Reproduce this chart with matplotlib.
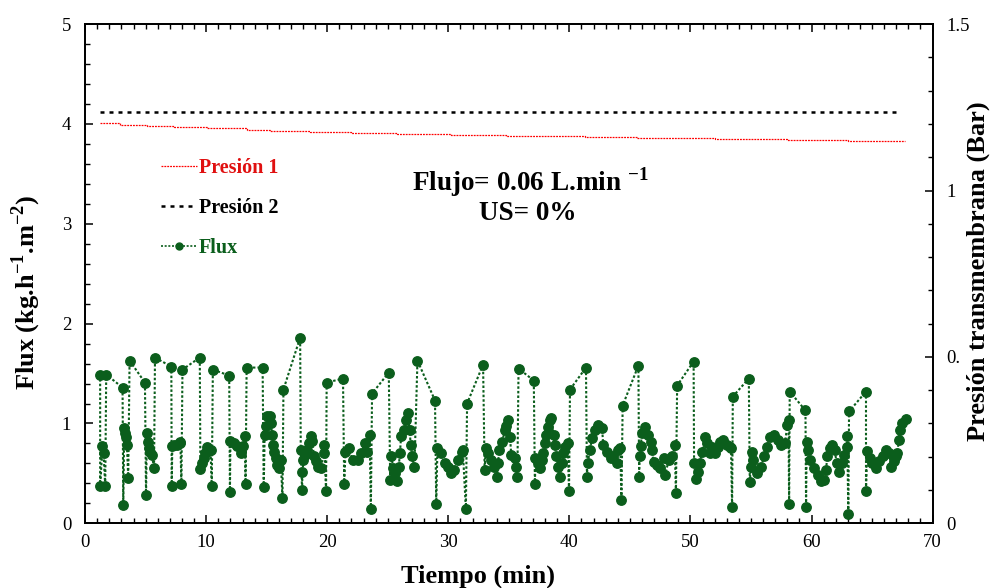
import matplotlib
matplotlib.use("Agg")
import matplotlib.pyplot as plt
from matplotlib.ticker import MultipleLocator, FixedLocator, FixedFormatter
from matplotlib.lines import Line2D

plt.rcParams['font.family'] = ['Liberation Serif', 'DejaVu Serif']
plt.rcParams['mathtext.fontset'] = 'custom'
plt.rcParams['mathtext.rm'] = 'Liberation Serif'
plt.rcParams['mathtext.bf'] = 'Liberation Serif:bold'

# Flux readings (time in min, flux in kg.h-1.m-2)
tiempo = [
    1.24, 1.24, 1.43, 1.52, 1.66,
    1.74, 3.09, 3.15, 3.23, 3.30, 3.40, 3.45, 3.56,
    3.67, 4.94, 5.03, 5.10, 5.20, 5.28, 5.38, 5.52, 5.69,
    5.77, 7.12, 7.15, 7.20, 7.37, 7.60, 7.80, 7.87, 7.95,
    8.04, 9.47, 9.52, 9.66, 9.80, 9.94, 10.08, 10.20, 10.36, 10.46,
    10.55, 11.90, 11.96, 12.00, 12.29, 12.57, 12.84, 13.06, 13.20, 13.25,
    13.34, 14.66, 14.75, 14.83, 14.91, 15.05, 15.27, 15.33, 15.47, 15.50,
    15.60, 15.74, 15.88, 16.00, 16.16, 16.30,
    16.38, 17.76, 17.81, 17.92, 17.95, 18.03, 18.20, 18.36, 18.50, 18.64,
    18.78, 18.90, 19.05, 19.20, 19.47, 19.70, 19.75, 19.90,
    19.95, 21.30, 21.40, 21.50, 21.80, 22.10, 22.50, 22.80, 23.10, 23.30,
    23.50, 23.60,
    23.70, 25.08, 25.20, 25.30, 25.45, 25.60, 25.75, 25.90, 26.00, 26.10,
    26.30, 26.50, 26.65, 26.80, 26.90, 27.00, 27.20,
    27.45, 28.90, 29.00, 29.10, 29.40, 29.70, 29.96, 30.20, 30.50, 30.80,
    31.10, 31.20, 31.45,
    31.55, 32.87, 33.00, 33.10, 33.30, 33.55, 33.80, 34.00, 34.10, 34.20,
    34.40, 34.70, 34.80, 34.90, 35.10, 35.20, 35.50, 35.60, 35.70,
    35.80, 37.06, 37.15, 37.20, 37.40, 37.55, 37.70, 37.80, 38.00, 38.10,
    38.20, 38.40, 38.50, 38.70, 38.80, 38.90, 39.10, 39.20, 39.40, 39.50,
    39.60, 39.85, 39.97,
    40.05, 41.37, 41.45, 41.50, 41.70, 41.85, 42.10, 42.40, 42.70, 42.80,
    43.10, 43.40, 43.60, 43.90, 44.05, 44.20, 44.30,
    44.40, 45.70, 45.76, 45.80, 45.90, 45.98, 46.26, 46.50, 46.70, 46.80,
    46.96, 47.20, 47.50, 47.80, 47.90, 48.20, 48.50, 48.70, 48.80,
    48.90, 50.26, 50.30, 50.45, 50.60, 50.75, 50.95, 51.20, 51.40, 51.60,
    51.75, 52.00, 52.25, 52.45, 52.70, 53.00, 53.25, 53.35, 53.44,
    53.50, 54.82, 54.90, 55.00, 55.05, 55.20, 55.50, 55.80, 56.10, 56.30,
    56.60, 56.90, 57.20, 57.45, 57.80, 58.00, 58.10, 58.15,
    58.20, 59.50, 59.55, 59.60, 59.70, 59.90, 60.20, 60.50, 60.75, 61.00,
    61.20, 61.30, 61.50, 61.70, 61.90, 62.10, 62.30, 62.50, 62.70, 62.90,
    62.95, 63.04,
    63.10, 64.50, 64.50, 64.60, 64.80, 65.00, 65.30, 65.60, 65.90, 66.15,
    66.40, 66.60, 66.80, 67.00, 67.10, 67.20, 67.30, 67.50, 67.80,
]
flux = [
    1.49, 0.37, 0.77, 0.70, 0.37,
    1.49, 1.36, 0.18, 0.95, 0.90, 0.86, 0.78, 0.45,
    1.63, 1.41, 0.28, 0.90, 0.81, 0.75, 0.71, 0.68, 0.55,
    1.66, 1.57, 0.37, 0.77, 0.78, 0.78, 0.80, 0.81, 0.39,
    1.54, 1.66, 0.54, 0.60, 0.65, 0.70, 0.76, 0.72, 0.73, 0.37,
    1.54, 1.48, 0.31, 0.82, 0.80, 0.77, 0.70, 0.77, 0.87, 0.39,
    1.56, 1.56, 0.36, 0.88, 0.97, 1.07, 1.07, 1.00, 0.88, 0.78,
    0.71, 0.65, 0.58, 0.55, 0.63, 0.25,
    1.34, 1.86, 0.73, 0.33, 0.51, 0.63, 0.68, 0.73, 0.80, 0.87,
    0.82, 0.67, 0.62, 0.56, 0.55, 0.70, 0.78, 0.32,
    1.41, 1.45, 0.39, 0.71, 0.75, 0.63, 0.63, 0.70, 0.80, 0.71,
    0.88, 0.14,
    1.30, 1.51, 0.43, 0.67, 0.55, 0.50, 0.42, 0.56, 0.70, 0.87,
    0.93, 1.03, 1.10, 0.93, 0.78, 0.67, 0.56,
    1.63, 1.23, 0.19, 0.75, 0.70, 0.60, 0.56, 0.50, 0.53, 0.63,
    0.71, 0.73, 0.14,
    1.20, 1.59, 0.53, 0.75, 0.70, 0.63, 0.56, 0.46, 0.60, 0.73,
    0.81, 0.93, 0.97, 1.03, 0.86, 0.68, 0.65, 0.56, 0.46,
    1.55, 1.43, 0.39, 0.65, 0.60, 0.55, 0.63, 0.70, 0.80, 0.88,
    0.96, 1.03, 1.05, 0.88, 0.78, 0.67, 0.56, 0.46, 0.60, 0.70,
    0.76, 0.80, 0.32,
    1.34, 1.56, 0.46, 0.60, 0.73, 0.85, 0.93, 0.98, 0.95, 0.78,
    0.71, 0.65, 0.67, 0.60, 0.73, 0.75, 0.23,
    1.18, 1.58, 0.46, 0.67, 0.77, 0.90, 0.96, 0.88, 0.81, 0.73,
    0.61, 0.58, 0.55, 0.65, 0.48, 0.63, 0.67, 0.78, 0.30,
    1.38, 1.62, 0.60, 0.44, 0.51, 0.60, 0.71, 0.86, 0.80, 0.70,
    0.76, 0.70, 0.76, 0.81, 0.83, 0.78, 0.76, 0.75, 0.16,
    1.27, 1.45, 0.41, 0.56, 0.71, 0.63, 0.50, 0.56, 0.67, 0.76,
    0.86, 0.88, 0.83, 0.78, 0.80, 0.98, 1.03, 0.19,
    1.32, 1.13, 0.16, 0.81, 0.73, 0.63, 0.55, 0.48, 0.42, 0.43,
    0.53, 0.67, 0.75, 0.78, 0.73, 0.60, 0.51, 0.60, 0.68, 0.76,
    0.87, 0.09,
    1.12, 1.32, 0.32, 0.72, 0.65, 0.60, 0.55, 0.62, 0.67, 0.73,
    0.70, 0.56, 0.62, 0.67, 0.70, 0.83, 0.93, 1.00, 1.04,
]

# Transmembrane pressures (Bar)
p1_tiempo = [1.2, 2.9, 5.1, 7.3, 10.1, 13.4, 15.3, 18.6, 22.0, 25.8,
             30.2, 34.8, 41.3, 45.6, 52.0, 58.0, 63.0, 67.7]
p1_bar = [1.203, 1.198, 1.194, 1.190, 1.187, 1.183, 1.179, 1.175, 1.172, 1.169,
          1.166, 1.163, 1.160, 1.157, 1.154, 1.151, 1.148, 1.148]
p2_tiempo = [1.2, 67.2]
p2_bar = [1.237, 1.237]

verde = '#0b5e1c'

fig = plt.figure(figsize=(9.9, 5.88), dpi=100)
ax = fig.add_axes([0.086, 0.110, 0.856, 0.849])
ax2 = ax.twinx()

ax.plot(tiempo, flux, color=verde, linestyle=(0, (1.2, 1.0)), lw=1.5,
        marker='o', ms=6.8, mec=verde, mfc=verde, zorder=3)

ax2.plot(p1_tiempo, p1_bar, color='red', linestyle=(0, (1.5, 0.8)), lw=0.9,
         drawstyle='steps-post')
ax2.plot(p2_tiempo, p2_bar, color='black', linestyle=(0, (1.6, 2.0)), lw=1.8)

ax.set_xlim(0, 70)
ax.set_ylim(0, 5)
ax2.set_ylim(0, 1.5)

ax.xaxis.set_major_locator(MultipleLocator(10))
ax.xaxis.set_minor_locator(MultipleLocator(1))
ax.yaxis.set_major_locator(MultipleLocator(1))
ax.yaxis.set_minor_locator(MultipleLocator(0.2))
ax2.yaxis.set_major_locator(FixedLocator([0, 0.5, 1, 1.5]))
ax2.yaxis.set_major_formatter(FixedFormatter(['0', '0.', '1', '1.5']))
ax2.yaxis.set_minor_locator(MultipleLocator(0.1))

ax.tick_params(axis='x', which='both', direction='in', top=True, labelsize=13.5, pad=8)
ax.tick_params(axis='y', which='both', direction='in', labelsize=13.5, pad=10)
ax2.tick_params(axis='y', which='both', direction='in', labelsize=13.5, pad=10)
for a in (ax, ax2):
    a.tick_params(which='major', length=6, width=1.1)
    a.tick_params(which='minor', length=3.5, width=1.0)
    for s in a.spines.values():
        s.set_linewidth(1.3)

ax.set_xlabel('Tiempo (min)', fontsize=19, fontweight='bold')
ax.xaxis.set_label_coords(0.464, -0.082)
ax.set_ylabel(r'Flux (kg.h$^{\mathbf{-1}}$.m$^{\mathbf{-2}}$)', fontsize=19, fontweight='bold')
ax.yaxis.set_label_coords(-0.05, 0.463)
ax2.set_ylabel('Presión transmembrana (Bar)', fontsize=19, fontweight='bold')
ax2.yaxis.set_label_coords(1.040, 0.505)

ax.text(0.525, 0.683, r'Flujo= 0.06 L.min $^{\mathbf{-1}}$', transform=ax.transAxes,
        ha='center', va='center', fontsize=19.5, fontweight='bold')
ax.text(0.522, 0.621, 'US= 0%', transform=ax.transAxes,
        ha='center', va='center', fontsize=19.5, fontweight='bold')

handles = [
    Line2D([], [], color='red', linestyle=(0, (1.5, 0.8)), lw=0.9),
    Line2D([], [], color='black', linestyle=(0, (1.6, 2.0)), lw=1.8),
    Line2D([], [], color=verde, linestyle=(0, (1.2, 1.0)), lw=1.2,
           marker='o', ms=5),
]
ax2.legend(handles, ['Presión 1', 'Presión 2', 'Flux'],
           labelcolor=['#e01010', 'black', verde],
           prop={'weight': 'bold', 'size': 14.5}, frameon=False,
           loc='upper left', bbox_to_anchor=(0.078, 0.752),
           handlelength=1.75, handletextpad=0.12, labelspacing=1.0,
           borderpad=0)

fig.savefig('out.png', dpi=100)
